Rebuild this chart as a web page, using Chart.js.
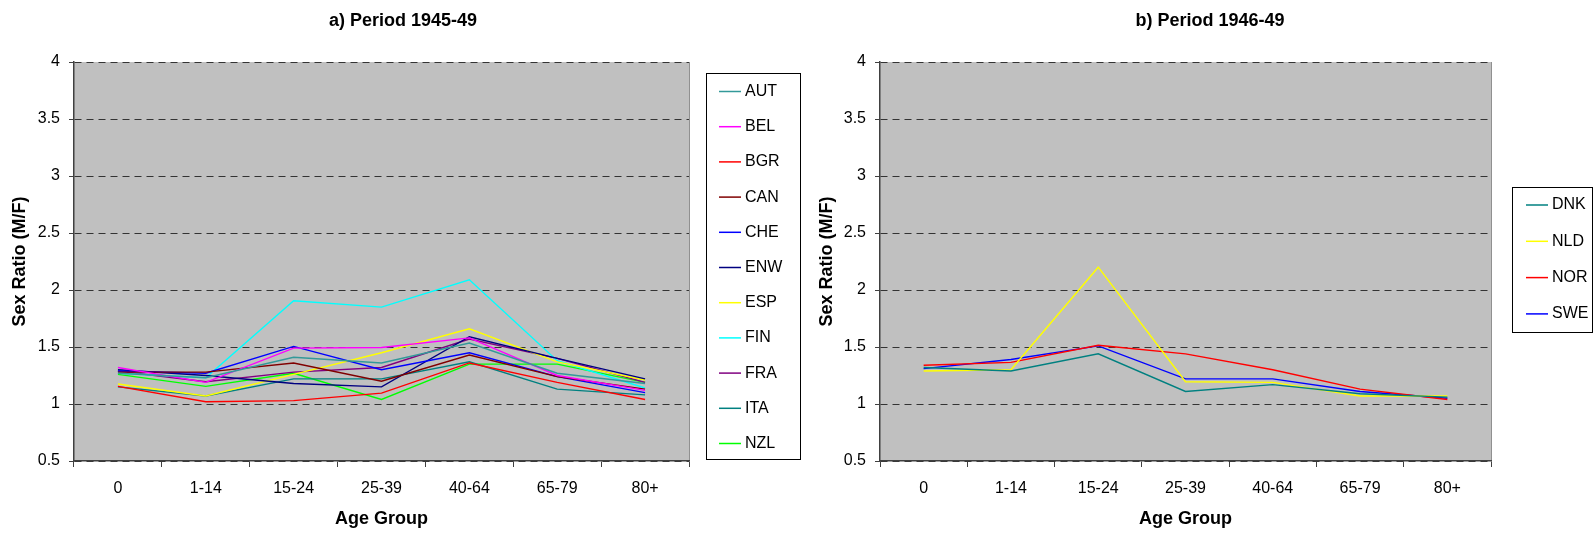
<!DOCTYPE html>
<html>
<head>
<meta charset="utf-8">
<script src="https://cdn.jsdelivr.net/npm/chart.js@4.4.1/dist/chart.umd.min.js"></script>
<style>
    body { margin: 0; background: #fff; width: 1593px; height: 534px; overflow: hidden; position: relative; }
    canvas { position: absolute; top: 0; }
    #chartA { left: 0; }
    #chartB { left: 805px; }
</style>
</head>
<body>
<canvas id="chartA" width="805" height="534"></canvas>
<canvas id="chartB" width="788" height="534"></canvas>
<script>
// age groups on the x axis, shared by both panels
const ageGroups = ['0', '1-14', '15-24', '25-39', '40-64', '65-79', '80+']

// a) Period 1945-49
const countriesA = ['AUT', 'BEL', 'BGR', 'CAN', 'CHE', 'ENW', 'ESP', 'FIN', 'FRA', 'ITA', 'NZL']
const aut = [1.27, 1.23, 1.41, 1.36, 1.535, 1.27, 1.18]
const bel = [1.32, 1.19, 1.49, 1.495, 1.58, 1.25, 1.12]
const bgr = [1.155, 1.02, 1.03, 1.095, 1.36, 1.19, 1.04]
const can = [1.28, 1.28, 1.36, 1.20, 1.43, 1.24, 1.13]
const che = [1.29, 1.27, 1.505, 1.30, 1.45, 1.24, 1.10]
const enw = [1.30, 1.25, 1.18, 1.15, 1.59, 1.40, 1.22]
const esp = [1.175, 1.07, 1.26, 1.45, 1.66, 1.37, 1.21]
const fin = [1.27, 1.23, 1.905, 1.85, 2.09, 1.38, 1.14]
const fra = [1.29, 1.195, 1.28, 1.32, 1.57, 1.40, 1.19]
const ita = [1.15, 1.07, 1.22, 1.22, 1.37, 1.13, 1.08]
const nzl = [1.26, 1.155, 1.27, 1.04, 1.35, 1.35, 1.19]
const colorsA = ['#339999', '#ff00ff', '#ff0000', '#800000', '#0000ff', '#000080', '#ffff00', '#00ffff', '#800080', '#008080', '#00ff00']

// b) Period 1946-49
const countriesB = ['DNK', 'NLD', 'NOR', 'SWE']
const dnk = [1.32, 1.29, 1.44, 1.11, 1.17, 1.09, 1.06]
const nld = [1.29, 1.30, 2.20, 1.195, 1.19, 1.07, 1.07]
const nor = [1.34, 1.365, 1.515, 1.44, 1.30, 1.13, 1.04]
const swe = [1.31, 1.39, 1.51, 1.22, 1.22, 1.11, 1.05]
const colorsB = ['#008080', '#ffff00', '#ff0000', '#0000ff']

const yTicks = [0.5, 1, 1.5, 2, 2.5, 3, 3.5, 4]

const FONT = "'Liberation Sans', Arial, sans-serif"
const AXIS = '#404040'

// grey plot area plus the light frame on its right side
const plotBackground = {
    id: 'plotBackground',
    beforeDraw(chart) {
        let {ctx, chartArea: a} = chart
        ctx.save()
        ctx.fillStyle = '#c0c0c0'
        ctx.fillRect(a.left, a.top, a.right - a.left, a.bottom - a.top)
        ctx.strokeStyle = '#909090'
        ctx.lineWidth = 1
        ctx.beginPath()
        ctx.moveTo(a.right + 0.5, a.top)
        ctx.lineTo(a.right + 0.5, a.bottom)
        ctx.stroke()
        ctx.restore()
    },
}

// panel title, centred on the whole chart object rather than the plot
const panelTitle = {
    id: 'panelTitle',
    afterDraw(chart, args, opts) {
        let ctx = chart.ctx
        ctx.save()
        ctx.font = `bold 18px ${FONT}`
        ctx.fillStyle = '#000'
        ctx.textAlign = 'center'
        ctx.textBaseline = 'middle'
        ctx.fillText(opts.text, opts.x, opts.y)
        ctx.restore()
    },
}

// Excel style framed legend: short line sample then the series name
const boxLegend = {
    id: 'boxLegend',
    afterDraw(chart, args, opts) {
        let ctx = chart.ctx
        ctx.save()
        ctx.strokeStyle = '#000'
        ctx.lineWidth = 1
        ctx.strokeRect(opts.x + 0.5, opts.y + 0.5, opts.w, opts.h)
        ctx.font = `16px ${FONT}`
        ctx.textBaseline = 'middle'
        ctx.textAlign = 'left'
        chart.data.datasets.forEach((ds, i) => {
            let y = opts.first + i * opts.step
            ctx.strokeStyle = ds.borderColor
            ctx.lineWidth = 1.5
            ctx.beginPath()
            ctx.moveTo(opts.x + opts.lineFrom, y)
            ctx.lineTo(opts.x + opts.lineTo, y)
            ctx.stroke()
            ctx.fillStyle = '#000'
            ctx.fillText(ds.label, opts.x + opts.textAt, y)
        })
        ctx.restore()
    },
}

function makeDatasets(names, series, colors) {
    return names.map((name, i) => ({
        label: name,
        data: series[i],
        borderColor: colors[i],
        backgroundColor: colors[i],
        borderWidth: 1.4,
        pointRadius: 0,
        tension: 0,
        fill: false,
    }))
}

function makeOptions({yWidth, yTitlePad, padRight, title, legend}) {
    return {
        responsive: false,
        animation: false,
        layout: {padding: {top: 62, right: padRight, bottom: 0, left: 0}},
        plugins: {
            legend: {display: false},
            tooltip: {enabled: false},
            panelTitle: title,
            boxLegend: legend,
        },
        scales: {
            x: {
                offset: true,
                afterFit(scale) {
                    scale.height = 73
                },
                grid: {
                    offset: true,
                    drawOnChartArea: false,
                    drawTicks: true,
                    tickLength: 6,
                    tickColor: AXIS,
                    tickWidth: 1,
                },
                border: {display: true, color: AXIS, width: 1.5},
                ticks: {
                    color: '#000',
                    font: {family: FONT, size: 16},
                    padding: 12,
                    maxRotation: 0,
                    autoSkip: false,
                },
                title: {
                    display: true,
                    text: 'Age Group',
                    color: '#000',
                    font: {family: FONT, size: 18, weight: 'bold'},
                    padding: {top: 0, bottom: 4},
                },
            },
            y: {
                min: 0.5,
                max: 4,
                afterFit(scale) {
                    scale.width = yWidth
                },
                afterBuildTicks(scale) {
                    scale.ticks = yTicks.map((v) => ({value: v}))
                },
                grid: {
                    color: '#333333',
                    lineWidth: 1,
                    drawTicks: true,
                    tickLength: 5,
                    tickColor: AXIS,
                    tickWidth: 1,
                    tickBorderDash: [],
                },
                border: {display: true, color: AXIS, width: 1.5, dash: [7, 5]},
                ticks: {
                    color: '#000',
                    font: {family: FONT, size: 16},
                    padding: 9,
                    callback: (value) => String(value),
                },
                title: {
                    display: true,
                    text: 'Sex Ratio (M/F)',
                    color: '#000',
                    font: {family: FONT, size: 18, weight: 'bold'},
                    padding: {top: yTitlePad, bottom: 0},
                },
            },
        },
    }
}

new Chart(document.getElementById('chartA'), {
    type: 'line',
    data: {
        labels: ageGroups,
        datasets: makeDatasets(countriesA, [aut, bel, bgr, can, che, enw, esp, fin, fra, ita, nzl], colorsA),
    },
    options: makeOptions({
        yWidth: 74,
        yTitlePad: 9,
        padRight: 116,
        title: {text: 'a) Period 1945-49', x: 403, y: 21},
        legend: {x: 706, y: 73, w: 94, h: 386, first: 91.5, step: 35.2, lineFrom: 13, lineTo: 35, textAt: 39},
    }),
    plugins: [plotBackground, panelTitle, boxLegend],
})

new Chart(document.getElementById('chartB'), {
    type: 'line',
    data: {
        labels: ageGroups,
        datasets: makeDatasets(countriesB, [dnk, nld, nor, swe], colorsB),
    },
    options: makeOptions({
        yWidth: 75,
        yTitlePad: 11,
        padRight: 102,
        title: {text: 'b) Period 1946-49', x: 405, y: 21},
        legend: {x: 707, y: 187, w: 80, h: 145, first: 205, step: 36.3, lineFrom: 14, lineTo: 36, textAt: 40},
    }),
    plugins: [plotBackground, panelTitle, boxLegend],
})
</script>
</body>
</html>
